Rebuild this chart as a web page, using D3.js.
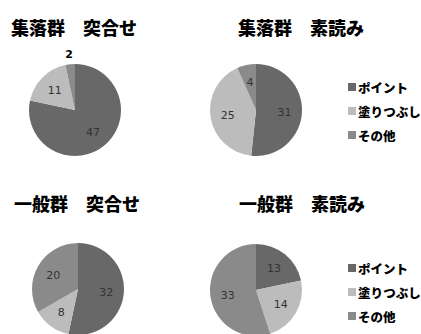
<!DOCTYPE html>
<html>
  <head>
    <meta charset="utf-8">
    <title></title>
    <style>
      body {
        margin: 0;
        background: #fff;
      }
      svg {
        display: block;
        font-family: "Noto Sans CJK JP", sans-serif;
      }
      .title {
        font-size: 18px;
        font-weight: 900;
        fill: #000;
      }
      .legend text {
        font-size: 12.5px;
        font-weight: 900;
        fill: #000;
      }
      .label {
        font-family: "DejaVu Sans", sans-serif;
        font-size: 11px;
        fill: #333;
      }
    </style>
  </head>
  <body>
    <div id="chart"></div>
    <script src="https://cdn.jsdelivr.net/npm/d3@7"></script>
    <script>

      let categories = ["ポイント", "塗りつぶし", "その他"];
      let titles = ["集落群　突合せ", "集落群　素読み", "一般群　突合せ", "一般群　素読み"];
      let shuurakuTotsugo = [47, 11, 2];
      let shuurakuSoyomi = [31, 25, 4];
      let ippanTotsugo = [32, 8, 20];
      let ippanSoyomi = [13, 14, 33];
      let colors = ["#686868", "#bcbcbc", "#8a8a8a"];

      let series = [shuurakuTotsugo, shuurakuSoyomi, ippanTotsugo, ippanSoyomi];

      let width = 421, height = 334;

      let svg = d3.select('#chart').append('svg')
        .attr('width', width)
        .attr('height', height);

      let color = d3.scaleOrdinal().domain(categories).range(colors);

      // panel positions: pie centre, title centre
      let panels = [
        {cx: 75, cy: 110, tx: 74, ty: 27},
        {cx: 256, cy: 110, tx: 301, ty: 27},
        {cx: 78, cy: 289, tx: 77, ty: 203},
        {cx: 256, cy: 290, tx: 302, ty: 203}
      ];
      let radius = 46;

      let pie = d3.pie().sort(null).value(d => d.value);
      let arc = d3.arc().innerRadius(0).outerRadius(radius);
      let labelArc = d3.arc().innerRadius(radius * 0.62).outerRadius(radius * 0.62);
      let outerArc = d3.arc().innerRadius(radius + 10).outerRadius(radius + 10);

      series.forEach((values, i) => {
        let p = panels[i];
        let data = categories.map((c, j) => ({key: c, value: values[j]}));
        let total = d3.sum(values);

        svg.append('text')
          .attr('class', 'title')
          .attr('x', p.tx)
          .attr('y', p.ty)
          .attr('text-anchor', 'middle')
          .attr('dominant-baseline', 'central')
          .text(titles[i]);

        let g = svg.append('g')
          .attr('transform', 'translate(' + p.cx + ',' + p.cy + ')');

        let arcs = pie(data);

        g.selectAll('path')
          .data(arcs)
          .join('path')
          .attr('fill', d => color(d.data.key))
          .attr('d', arc);

        g.selectAll('text')
          .data(arcs)
          .join('text')
          .attr('class', 'label')
          .attr('text-anchor', 'middle')
          .attr('dy', '0.55em')
          .attr('transform', d => {
            let small = d.data.value / total < 0.05;
            let c = small ? outerArc.centroid(d) : labelArc.centroid(d);
            return 'translate(' + c[0] + ',' + (c[1] - 2) + ')';
          })
          .style('font-weight', d => d.data.value / total < 0.05 ? 'bold' : null)
          .style('fill', d => d.data.value / total < 0.05 ? '#000' : null)
          .text(d => d.data.value);
      });

      // legends on the right of each row
      [87, 268].forEach(top => {
        let legend = svg.append('g')
          .attr('class', 'legend')
          .attr('transform', 'translate(348,' + top + ')');

        let item = legend.selectAll('g')
          .data(categories)
          .join('g')
          .attr('transform', (d, i) => 'translate(0,' + (i * 24) + ')');

        item.append('rect')
          .attr('x', 0)
          .attr('y', -4)
          .attr('width', 8)
          .attr('height', 8)
          .attr('fill', d => color(d));

        item.append('text')
          .attr('x', 10)
          .attr('y', 0)
          .attr('dominant-baseline', 'central')
          .text(d => d);
      });

    </script>
  </body>
</html>
